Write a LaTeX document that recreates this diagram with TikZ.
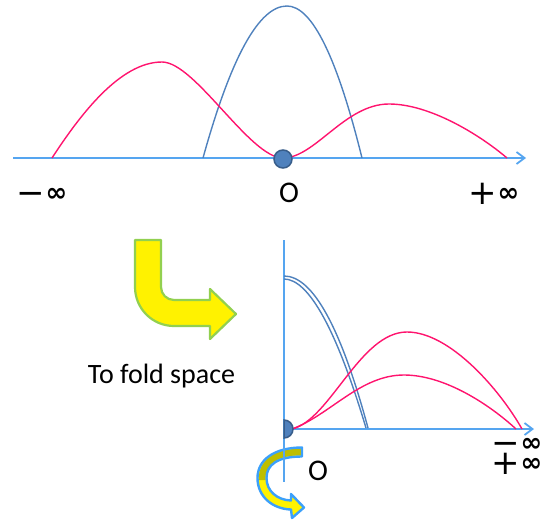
\documentclass[tikz,border=0pt]{standalone}
\usepackage{fontspec}
\setmainfont{Carlito}
\newfontfamily\symfont{DejaVu Sans}
\usetikzlibrary{positioning,arrows.meta}
\definecolor{axisblue}{RGB}{85,165,240}
\definecolor{curveblue}{RGB}{79,129,189}
\definecolor{dotborder}{RGB}{56,93,138}
\definecolor{curvered}{RGB}{255,20,110}
\definecolor{arrowgreen}{RGB}{146,208,80}
\definecolor{curlblue}{RGB}{60,160,250}
\definecolor{darkyellow}{RGB}{190,190,0}
\newcommand{\infsign}{\raisebox{3pt}{\symfont\bfseries\fontsize{26}{26}\selectfont ∞}}
\newcommand{\neginf}{{\symfont\fontsize{34}{34}\selectfont −}\hspace{0.5pt}\infsign}
\newcommand{\posinf}{{\symfont\fontsize{34}{34}\selectfont +}\hspace{0.5pt}\infsign}
\newcommand{\tightlines}{\fontsize{22}{20}\selectfont\lineskiplimit=-100pt\relax}

\begin{document}
\begin{tikzpicture}[
    x=1pt, y=-1pt,
    axis/.style={draw=axisblue, line width=1.8pt, -{Straight Barb[length=8pt,width=12pt]}},
    vaxis/.style={draw=axisblue, line width=1.8pt},
    bluecurve/.style={draw=curveblue, line width=1.4pt},
    redcurve/.style={draw=curvered, line width=1.4pt},
    origindot/.style={fill=curveblue, draw=dotborder, line width=1.5pt},
    lbl/.style={font=\fontsize{30}{30}\selectfont, inner sep=0pt},
    inflbl/.style={inner sep=0pt, anchor=base west},
    bentarrow/.style={fill=yellow, draw=arrowgreen, line width=2.2pt, line join=round},
    curlarrow/.style={draw=curlblue, line width=2.4pt, line join=round},
]
\useasboundingbox (0,0) rectangle (552,525);

% Top: the whole line, from minus to plus infinity.
\coordinate (top_start) at (13,158);
\coordinate (top_end)   at (526,158);
\coordinate (top_orig)  at (283,159);
\draw[axis] (top_start) -- (top_end);
\draw[bluecurve] (203,158) .. controls (231,57) and (259,6) .. (287,6)
                 .. controls (312,6) and (337,57) .. (362,158);
\draw[redcurve] (52,158) .. controls (80,115) and (120,62) .. (162,62)
                .. controls (195,62) and (250,158) .. (283,158)
                .. controls (315,158) and (345,104) .. (389,104)
                .. controls (430,104) and (480,135) .. (507,158);
\draw[origindot] (top_orig) circle[radius=9];

\node[inflbl]               (top_neg)  at (16.4,204) {\neginf};
\node[lbl]                  (top_o)    at (289,193)  {O};
\node[inflbl]               (top_pos)  at (468.4,204) {\posinf};

% Bent arrow and its caption.
\draw[bentarrow] (135,240) -- (161,240) -- (161,287) arc[start angle=180, end angle=90, radius=13]
                 -- (210,300) -- (210,289) -- (236,314) -- (210,339) -- (210,326)
                 -- (174,326) arc[start angle=90, end angle=180, radius=39] -- cycle;
\node[font=\fontsize{28}{28}\selectfont, inner sep=0pt, anchor=base] (fold_lbl) at (161.5,383) {To fold space};

% Bottom: the half line after folding.
\coordinate (bot_top)  at (284,240);
\coordinate (bot_foot) at (284,482);
\coordinate (bot_orig) at (284,429);
\coordinate (bot_end)  at (534,429);

% Curled arrow round the fold axis.
\fill[yellow] (302,447.5) .. controls (274,447.5) and (257.5,460) .. (257.5,478)
              .. controls (257.5,497) and (273,509) .. (291,509.5)
              -- (292,518) -- (304,507.5) -- (291,494) -- (291,500.5)
              .. controls (277,500) and (266.5,491) .. (266.5,478)
              .. controls (266.5,465) and (277,456.5) .. (302,456.5) -- cycle;
\fill[darkyellow] (301,448.7) .. controls (274,448.7) and (258.7,460) .. (258.7,480)
                  -- (265.3,480) .. controls (265.3,464) and (277,455.3) .. (301,455.3) -- cycle;
\draw[curlarrow] (302,447.5) .. controls (274,447.5) and (257.5,460) .. (257.5,478)
                 .. controls (257.5,497) and (273,509) .. (291,509.5)
                 -- (292,518) -- (304,507.5) -- (291,494) -- (291,500.5)
                 .. controls (277,500) and (266.5,491) .. (266.5,478)
                 .. controls (266.5,465) and (277,456.5) .. (302,456.5) -- cycle;

\draw[vaxis] (bot_top) -- (bot_foot);
\draw[axis] (bot_orig) -- (bot_end);
\draw[bluecurve] (284,276) .. controls (313,276) and (341,328) .. (368,428);
\draw[bluecurve] (284,279) .. controls (309,279) and (337,331) .. (366,428);
\draw[redcurve] (292,429) .. controls (330,420) and (360,332) .. (407,332)
                .. controls (450,332) and (500,390) .. (522,429);
\draw[redcurve] (292,429) .. controls (330,415) and (360,375) .. (404,375)
                .. controls (445,375) and (490,405) .. (516,429);
\draw[origindot] (284,420) arc[start angle=-90, end angle=90, radius=9] -- cycle;

\node[lbl]    (bot_o)   at (318,471)    {O};
\node[inner sep=0pt, anchor=west, align=left, font=\tightlines]
      (bot_inf) at (491.4,456.6) {\neginf\\\posinf};
\end{tikzpicture}
\end{document}
